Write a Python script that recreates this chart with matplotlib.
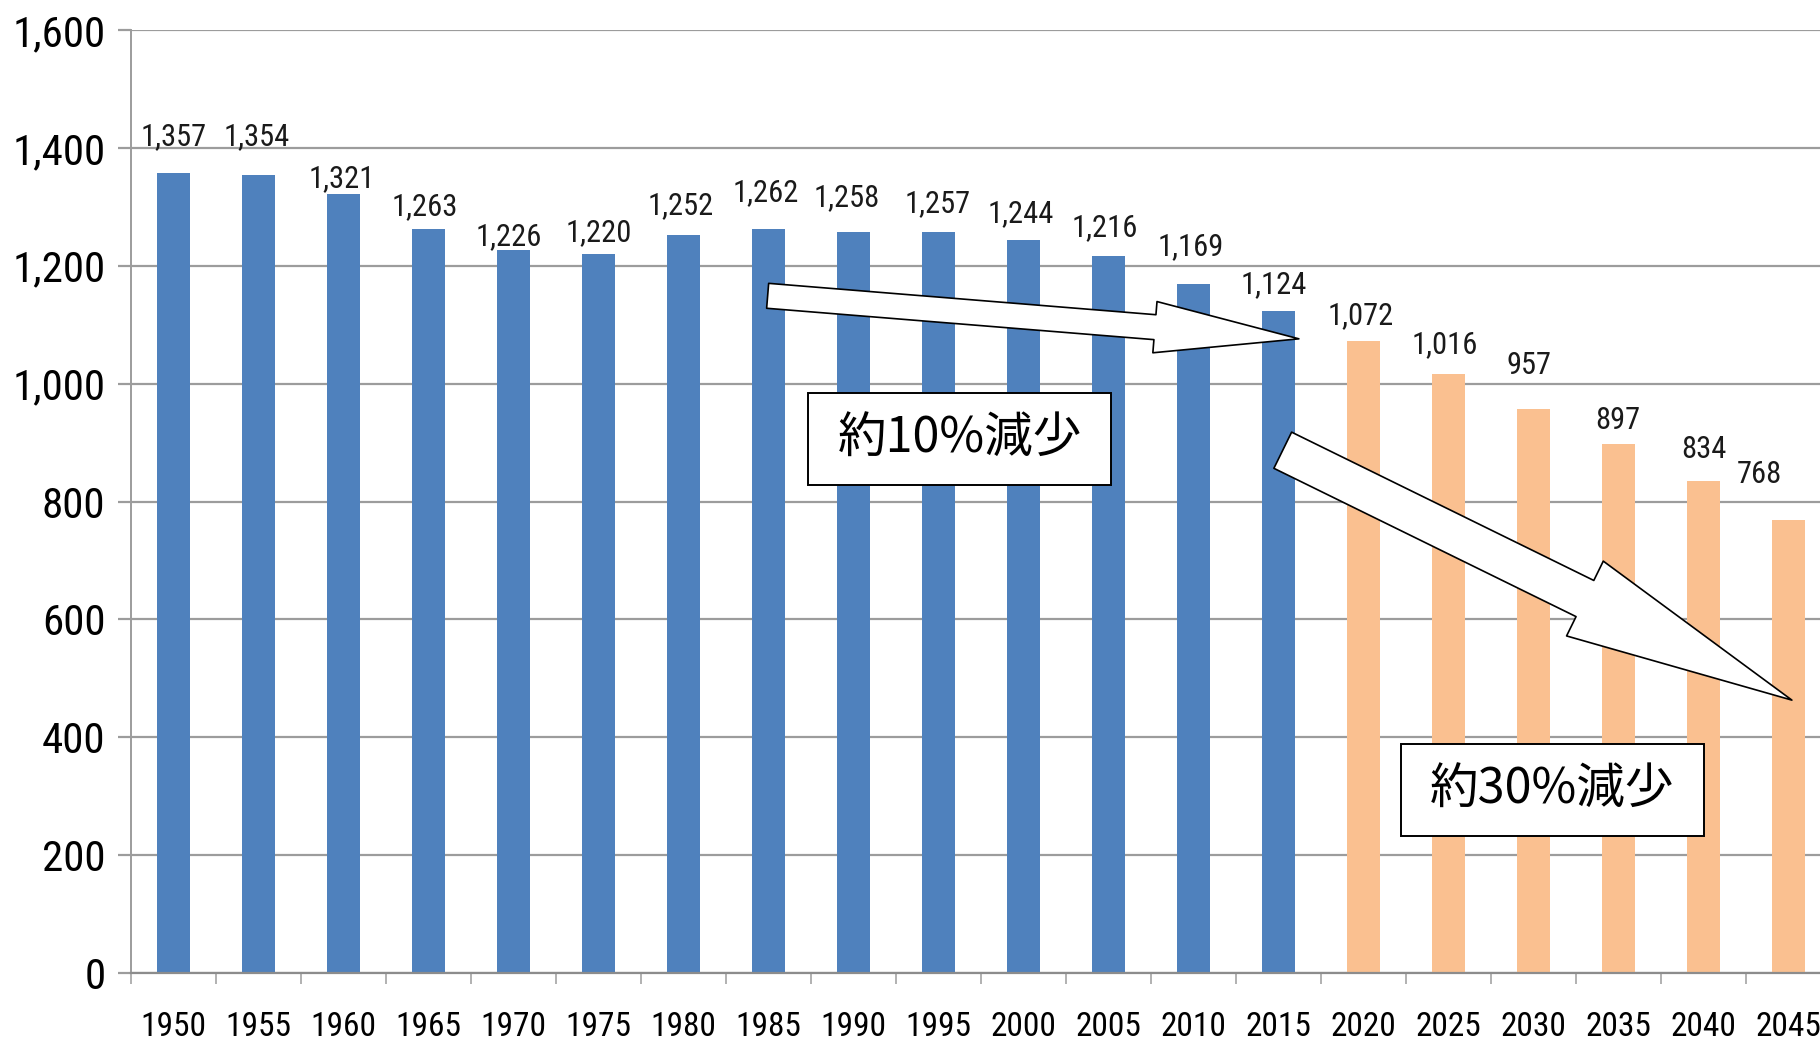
import numpy as np
import matplotlib
matplotlib.use("Agg")
import matplotlib.pyplot as plt
from matplotlib import font_manager
from matplotlib.patches import Rectangle

# 人口の推移（万人）: 2015年までは実績、2020年以降は推計
years = ["1950", "1955", "1960", "1965", "1970", "1975", "1980", "1985", "1990", "1995",
         "2000", "2005", "2010", "2015", "2020", "2025", "2030", "2035", "2040", "2045"]
population = [1357, 1354, 1321, 1263, 1226, 1220, 1252, 1262, 1258, 1257,
              1244, 1216, 1169, 1124, 1072, 1016, 957, 897, 834, 768]
first_projection = "2020"

y_ticks = [0, 200, 400, 600, 800, 1000, 1200, 1400, 1600]

# ラベルの位置調整（ピクセル）
label_dx = [0, -2, -2, -4, -5, 0, -3, -3, -7, -1, -3, -4, -3, -5, -3, -4, -4, -1, 0, -29]
label_dy = [37, 38, 16, 22, 14, 21, 29, 37, 34, 29, 26, 29, 37, 26, 26, 30, 43, 24, 32, 46]

blue = "#4F81BD"
orange = "#FAC090"
grid_gray = "#9C9C9C"


def installed(name):
    try:
        font_manager.findfont(font_manager.FontProperties(family=name), fallback_to_default=False)
        return True
    except ValueError:
        return False


# 数字は細めのフォントで（なければ DejaVu Sans を小さめに）
narrow = next((f for f in ["Liberation Sans Narrow", "DejaVu Sans Condensed", "Roboto Condensed"]
               if installed(f)), None)
if narrow:
    num_font, k = narrow, 1.0
else:
    num_font, k = "DejaVu Sans", 0.76

jp_font = ["Noto Sans CJK JP", "DejaVu Sans"]

fig = plt.figure(figsize=(18.2, 10.4), dpi=100)
ax = fig.add_axes([131 / 1820, 1 - 973 / 1040, 1700 / 1820, 943 / 1040])

x = np.arange(len(years))
colors = [orange if int(y) >= int(first_projection) else blue for y in years]
ax.bar(x, population, width=0.38, color=colors, zorder=2)

ax.set_xlim(-0.5, len(years) - 0.5)
ax.set_ylim(0, 1600)

# 軸と目盛り
ax.set_yticks(y_ticks)
ax.set_yticklabels([f"{v:,}" for v in y_ticks], fontsize=31 * k, family=num_font)
ax.set_xticks(x)
ax.set_xticklabels(years, fontsize=24 * k, family=num_font)
ax.set_xticks(np.arange(len(years) + 1) - 0.5, minor=True)
ax.tick_params(axis="x", which="major", length=0, pad=27)
ax.tick_params(axis="x", which="minor", length=8, width=1.1, color=grid_gray)
ax.tick_params(axis="y", length=9.5, width=1.6, color=grid_gray, pad=9)

ax.yaxis.grid(True, color=grid_gray, lw=1.6)
ax.set_axisbelow(True)
for s in ["top", "right"]:
    ax.spines[s].set_visible(False)
ax.spines["left"].set_color(grid_gray)
ax.spines["left"].set_linewidth(1.4)
ax.spines["bottom"].set_color("#8C8C8C")
ax.spines["bottom"].set_linewidth(1.6)

# データラベル
for i, v in enumerate(population):
    ax.annotate(f"{v:,}", (x[i], v), xytext=(label_dx[i], label_dy[i]), textcoords="offset pixels",
                ha="center", va="center", fontsize=22 * k, family=num_font, color="#1A1A1A")

# 矢印
ax.annotate("", xy=(13.24, 1076), xytext=(6.99, 1149),
            arrowprops=dict(arrowstyle="simple,head_length=104,head_width=37,tail_width=18",
                            mutation_scale=1, fc="white", ec="black", lw=1.2,
                            shrinkA=0, shrinkB=0), zorder=4)
ax.annotate("", xy=(19.04, 463), xytext=(13.05, 887),
            arrowprops=dict(arrowstyle="simple,head_length=166,head_width=60,tail_width=29",
                            mutation_scale=1, fc="white", ec="black", lw=1.2,
                            shrinkA=0, shrinkB=0), zorder=4)

# 減少率の囲み
ax.add_patch(Rectangle((7.465, 828), 3.565, 156, fc="white", ec="black", lw=1.4, zorder=5))
ax.text(9.25, 906, "約10%減少", ha="center", va="center", fontsize=35, family=jp_font, zorder=6)
ax.add_patch(Rectangle((14.44, 232.5), 3.565, 156, fc="white", ec="black", lw=1.4, zorder=5))
ax.text(16.22, 310, "約30%減少", ha="center", va="center", fontsize=35, family=jp_font, zorder=6)

fig.savefig("out.png", dpi=100)
